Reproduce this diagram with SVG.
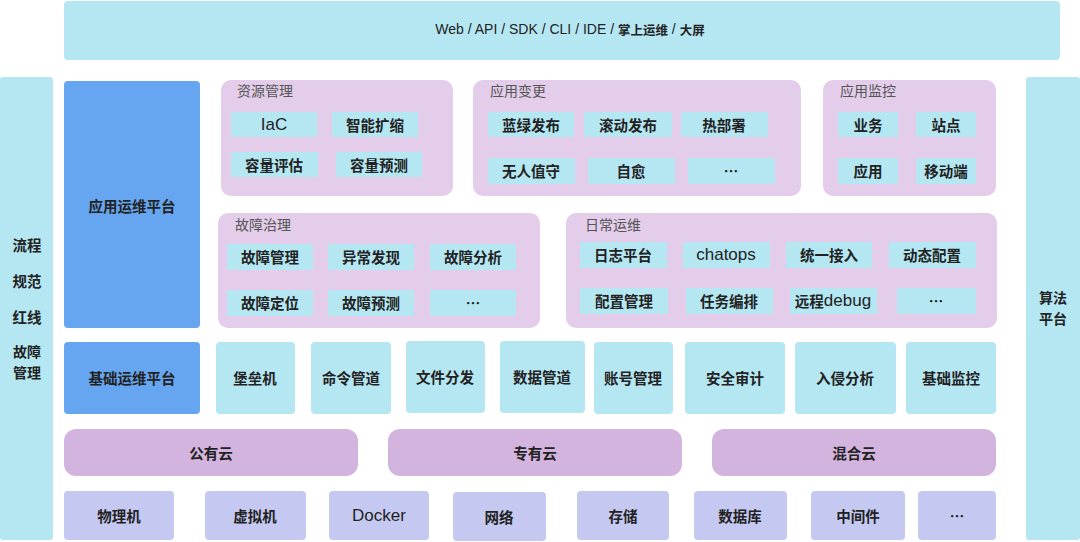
<svg xmlns="http://www.w3.org/2000/svg" width="1080" height="542" viewBox="0 0 1080 542">
<style>
text{font-family:"Noto Sans CJK SC","Liberation Sans",sans-serif;fill:#222;text-anchor:middle;dominant-baseline:central;font-size:14.5px;font-weight:700}
.c{fill:#b5e7f3}
.b{fill:#66a6f0}
.g{fill:#e3cdea}
.cl{fill:#d3b4de}
.lv{fill:#c5c9f2}
.t{text-anchor:start;fill:#555;font-weight:400;font-size:14px}
.lat{font-family:"Liberation Sans","Noto Sans CJK SC",sans-serif;font-size:17px;font-weight:400}
.s{font-size:14px}
</style>
<rect width="1080" height="542" fill="#fff"/>
<g id="top"><rect class="c" x="64" y="1" width="996" height="59" rx="4"/><text x="570" y="29" style="font-family:'Liberation Sans','Noto Sans CJK SC',sans-serif;font-size:14px;font-weight:400">Web / API / SDK / CLI / IDE / <tspan style="font-family:'Noto Sans CJK SC',sans-serif;font-weight:700;font-size:12.5px">掌上运维</tspan> / <tspan style="font-family:'Noto Sans CJK SC',sans-serif;font-weight:700;font-size:12.5px">大屏</tspan></text></g>
<g id="left"><rect class="c" x="0" y="77" width="53" height="463" rx="3"/>
<text x="27" y="244">流程</text><text x="27" y="280">规范</text><text x="27" y="316">红线</text><text class="s" x="27" y="351">故障</text><text class="s" x="27" y="371.5">管理</text></g>
<g id="right"><rect class="c" x="1026" y="77" width="54" height="463" rx="3"/><text class="s" x="1053" y="297">算法</text><text class="s" x="1053" y="317.5">平台</text></g>
<g id="app"><rect class="b" x="64" y="81" width="136" height="247" rx="4"/><text x="132" y="205">应用运维平台</text></g>
<g id="res"><rect class="g" x="221" y="80" width="232" height="116" rx="10"/><text class="t" x="237" y="90">资源管理</text>
<rect class="c" x="231" y="112" width="86" height="25"/><text class="lat" x="274" y="124">IaC</text>
<rect class="c" x="332" y="112" width="86" height="25"/><text x="375" y="124">智能扩缩</text>
<rect class="c" x="231" y="152" width="87" height="25"/><text x="274" y="164">容量评估</text>
<rect class="c" x="336" y="152" width="86" height="25"/><text x="379" y="164">容量预测</text></g>
<g id="chg"><rect class="g" x="473" y="80" width="328" height="116" rx="10"/><text class="t" x="490" y="90">应用变更</text>
<rect class="c" x="488" y="112" width="86" height="25"/><text x="531" y="124">蓝绿发布</text>
<rect class="c" x="584" y="112" width="88" height="25"/><text x="628" y="124">滚动发布</text>
<rect class="c" x="681" y="112" width="87" height="25"/><text x="724" y="124">热部署</text>
<rect class="c" x="488" y="158" width="87" height="26"/><text x="531" y="170">无人值守</text>
<rect class="c" x="588" y="158" width="87" height="26"/><text x="631" y="170">自愈</text>
<rect class="c" x="688" y="158" width="87" height="26"/><text x="731" y="170">…</text></g>
<g id="mon"><rect class="g" x="823" y="80" width="173" height="116" rx="10"/><text class="t" x="840" y="90">应用监控</text>
<rect class="c" x="838" y="112" width="60" height="25"/><text x="868" y="124">业务</text>
<rect class="c" x="916" y="112" width="60" height="25"/><text x="946" y="124">站点</text>
<rect class="c" x="838" y="158" width="60" height="26"/><text x="868" y="170">应用</text>
<rect class="c" x="916" y="158" width="60" height="26"/><text x="946" y="170">移动端</text></g>
<g id="fault"><rect class="g" x="218" y="213" width="322" height="115" rx="10"/><text class="t" x="235" y="224">故障治理</text>
<rect class="c" x="227" y="244" width="86" height="26"/><text x="270" y="256">故障管理</text>
<rect class="c" x="328" y="244" width="86" height="26"/><text x="371" y="256">异常发现</text>
<rect class="c" x="430" y="244" width="86" height="26"/><text x="473" y="256">故障分析</text>
<rect class="c" x="227" y="290" width="86" height="26"/><text x="270" y="302">故障定位</text>
<rect class="c" x="328" y="290" width="86" height="26"/><text x="371" y="302">故障预测</text>
<rect class="c" x="430" y="290" width="86" height="26"/><text x="473" y="302">…</text></g>
<g id="daily"><rect class="g" x="566" y="213" width="431" height="115" rx="10"/><text class="t" x="585" y="224">日常运维</text>
<rect class="c" x="580" y="242" width="87" height="26"/><text x="623" y="254">日志平台</text>
<rect class="c" x="683" y="242" width="87" height="26"/><text class="lat" x="726" y="254">chatops</text>
<rect class="c" x="786" y="242" width="86" height="26"/><text x="829" y="254">统一接入</text>
<rect class="c" x="889" y="242" width="87" height="26"/><text x="932" y="254">动态配置</text>
<rect class="c" x="580" y="288" width="88" height="26"/><text x="624" y="300">配置管理</text>
<rect class="c" x="686" y="288" width="87" height="26"/><text x="729" y="300">任务编排</text>
<rect class="c" x="790" y="288" width="87" height="26"/><text x="833" y="300">远程<tspan style="font-family:'Liberation Sans',sans-serif;font-size:17px;font-weight:400">debug</tspan></text>
<rect class="c" x="897" y="288" width="79" height="26"/><text x="936" y="300">…</text></g>
<g id="base"><rect class="b" x="64" y="342" width="136" height="72" rx="4"/><text x="132" y="377">基础运维平台</text></g>
<g id="b1"><rect class="c" x="216" y="342" width="79" height="72" rx="4"/><text x="255" y="377">堡垒机</text></g>
<g id="b2"><rect class="c" x="311" y="342" width="80" height="72" rx="4"/><text x="351" y="377">命令管道</text></g>
<g id="b3"><rect class="c" x="406" y="341" width="79" height="72" rx="4"/><text x="445" y="376">文件分发</text></g>
<g id="b4"><rect class="c" x="500" y="341" width="85" height="72" rx="4"/><text x="542" y="376">数据管道</text></g>
<g id="b5"><rect class="c" x="594" y="342" width="79" height="72" rx="4"/><text x="633" y="377">账号管理</text></g>
<g id="b6"><rect class="c" x="685" y="342" width="100" height="72" rx="4"/><text x="735" y="377">安全审计</text></g>
<g id="b7"><rect class="c" x="795" y="342" width="101" height="72" rx="4"/><text x="845" y="377">入侵分析</text></g>
<g id="b8"><rect class="c" x="906" y="342" width="90" height="72" rx="4"/><text x="951" y="377">基础监控</text></g>
<g id="cloud1"><rect class="cl" x="64" y="429" width="294" height="47" rx="12"/><text x="211" y="452">公有云</text></g>
<g id="cloud2"><rect class="cl" x="388" y="429" width="294" height="47" rx="12"/><text x="535" y="452">专有云</text></g>
<g id="cloud3"><rect class="cl" x="712" y="429" width="284" height="47" rx="12"/><text x="854" y="452">混合云</text></g>
<g id="h1"><rect class="lv" x="64" y="491" width="110" height="49" rx="4"/><text x="119" y="515">物理机</text></g>
<g id="h2"><rect class="lv" x="205" y="491" width="101" height="49" rx="4"/><text x="255" y="515">虚拟机</text></g>
<g id="h3"><rect class="lv" x="329" y="491" width="100" height="49" rx="4"/><text class="lat" x="379" y="515">Docker</text></g>
<g id="h4"><rect class="lv" x="453" y="492" width="93" height="49" rx="4"/><text x="499" y="516">网络</text></g>
<g id="h5"><rect class="lv" x="577" y="491" width="92" height="49" rx="4"/><text x="623" y="515">存储</text></g>
<g id="h6"><rect class="lv" x="694" y="491" width="93" height="49" rx="4"/><text x="740" y="515">数据库</text></g>
<g id="h7"><rect class="lv" x="811" y="491" width="94" height="49" rx="4"/><text x="858" y="515">中间件</text></g>
<g id="h8"><rect class="lv" x="918" y="491" width="78" height="49" rx="4"/><text x="957" y="515">…</text></g>
<g id="connectors"/>
</svg>
